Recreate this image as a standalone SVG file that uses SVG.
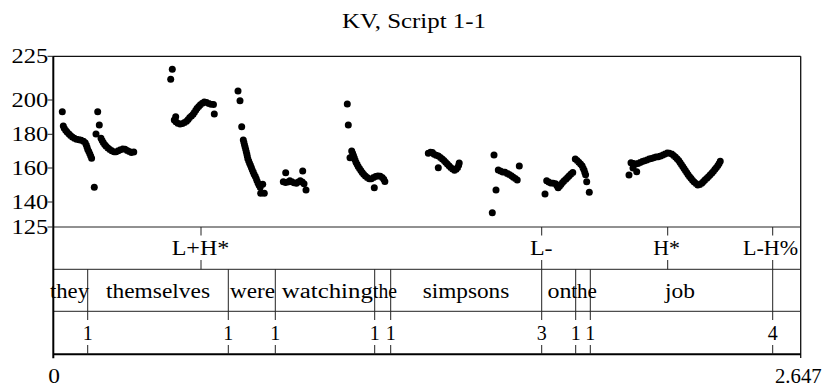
<svg xmlns="http://www.w3.org/2000/svg" width="828" height="386" viewBox="0 0 828 386">
<defs>
<style>
text{font-family:'Liberation Serif','DejaVu Serif',serif;font-size:20px;fill:#000}
.m{text-anchor:middle}
.e{text-anchor:end}
.ax{stroke:#000;stroke-width:2;fill:none}
.bd{stroke:#111;stroke-width:1.3;fill:none}
.sep{stroke:#222;stroke-width:1;fill:none}
.tk{stroke:#222;stroke-width:1;fill:none}
.f0{stroke:#000;stroke-width:7;stroke-linecap:round;stroke-linejoin:round;stroke-dasharray:0 2.4;fill:none}
.pt{fill:#000}
</style>
</defs>
<rect width="828" height="386" fill="#fff"/>
<g id="title"><text class="m" x="414" y="28" textLength="144" lengthAdjust="spacingAndGlyphs">KV, Script 1-1</text></g>

<g id="frame">
<line class="bd" x1="53.3" y1="56.3" x2="800.7" y2="56.3"/>
<line class="bd" x1="800.7" y1="56.3" x2="800.7" y2="358"/>
<line class="sep" x1="53.3" y1="227" x2="800.7" y2="227"/>
<line class="sep" x1="53.3" y1="269.3" x2="800.7" y2="269.3"/>
<line class="sep" x1="53.3" y1="311.3" x2="800.7" y2="311.3"/>
<line class="ax" x1="53.3" y1="56" x2="53.3" y2="358.3"/>
<line class="ax" x1="53.3" y1="354.3" x2="800.7" y2="354.3"/>
</g>

<g id="y-axis">
<g class="sep">
<line x1="47.5" y1="56.3" x2="53.3" y2="56.3"/>
<line x1="47.5" y1="100" x2="53.3" y2="100"/>
<line x1="47.5" y1="134.3" x2="53.3" y2="134.3"/>
<line x1="47.5" y1="168" x2="53.3" y2="168"/>
<line x1="47.5" y1="202" x2="53.3" y2="202"/>
<line x1="47.5" y1="227" x2="53.3" y2="227"/>
</g>
<text class="e" x="48.3" y="63" textLength="36.7" lengthAdjust="spacingAndGlyphs">225</text>
<text class="e" x="48.3" y="106.7" textLength="36.7" lengthAdjust="spacingAndGlyphs">200</text>
<text class="e" x="48.3" y="141" textLength="36.7" lengthAdjust="spacingAndGlyphs">180</text>
<text class="e" x="48.3" y="174.5" textLength="36.7" lengthAdjust="spacingAndGlyphs">160</text>
<text class="e" x="48.3" y="208.7" textLength="36.7" lengthAdjust="spacingAndGlyphs">140</text>
<text class="e" x="48.3" y="233.7" textLength="36.7" lengthAdjust="spacingAndGlyphs">125</text>
</g>

<g id="x-axis">
<text class="m" x="54" y="383" textLength="11.7" lengthAdjust="spacingAndGlyphs">0</text>
<text class="m" x="798.3" y="383" textLength="46.7" lengthAdjust="spacingAndGlyphs">2.647</text>
</g>

<g id="f0-track">
<path class="f0" d="M63.3,126 L64.3,128.3 66.7,131.7 70,135 73.3,137.7 76.7,139.3 80,140 83.3,141 85.7,143.3 86.7,146 87.7,149.3 89.3,152.7 90.7,156 92.3,160"/>
<path class="f0" d="M101,138.3 L103.3,142.7 105.7,146 108.3,148.3 111.7,150.7 115,152.3 118.3,150.7 121.7,149 125,149.3 128.3,151 131.7,152.7 135,151.7"/>
<path class="f0" d="M174.3,120 L176.7,122.7 180,124 183.3,123.3 186.7,121 190,117.3 193.3,114 197,108.3 200.5,104.5 204,102 207.5,102.8 211,104.3 214.5,104.5"/>
<path class="f0" d="M243.3,140 L245,146.7 246.7,153.3 247.7,158.3 249,161.7 250.7,166 252.3,170 254,174 255.7,177.3 257.3,181.7 259,185 260.7,188.3"/>
<path class="f0" d="M283.3,181.7 L286.7,182.7 290,180.7 293.3,182.7 296.7,183.3 300,180.7 303.3,182.7 305,185"/>
<path class="f0" d="M351.7,151 L353.3,155 355.7,161.7 358.3,166.7 361,170.7 363.3,174 366.7,177.3 370,179.3 373.3,177.7 376.7,176 380,176 383.3,178.3 385,181.7"/>
<path class="f0" d="M428.3,153.3 L431.7,151.7 435,155 438.3,156 441.7,158.3 445,161.7 448.3,165 451.7,168.3 455,170.7 458.3,166.7 459.3,162.7"/>
<path class="f0" d="M498.3,170 L501.7,171.7 505,172.3 508.3,174 511.7,176 515,178.3 517.3,180"/>
<path class="f0" d="M546.7,180.7 L550,183 553.3,183.3 556,184 558.3,188 561,184.3 564,181 567,178 570,175 573.3,172"/>
<path class="f0" d="M575.3,159 L578.3,161.7 581.7,165 584,170 585.7,175"/>
<path class="f0" d="M631,162.7 L635,164 638.3,163.3 641.7,161.7 645,160.7 648.3,159.3 651.7,158.3 655,157.3 658.3,156.7 661.7,155.7 665,154 668.3,152.7 671.7,154 675,156.7 678.3,160 681.7,165 685,170 688.3,175 691.7,179.3 695,182.7 698.3,185.5 701.7,183.3 705,180 708.3,176.7 711.7,173.3 715,169.3 718.3,165 721,160"/>
<g class="pt">
<circle cx="62.3" cy="111.7" r="3.5"/>
<circle cx="94.3" cy="187.3" r="3.5"/>
<circle cx="97.7" cy="111.7" r="3.5"/>
<circle cx="99.3" cy="125" r="3.5"/>
<circle cx="96" cy="134" r="3.5"/>
<circle cx="172.3" cy="69.3" r="3.5"/>
<circle cx="170.7" cy="79.3" r="3.5"/>
<circle cx="175.7" cy="116.7" r="3.5"/>
<circle cx="214.3" cy="114" r="3.5"/>
<circle cx="238" cy="91" r="3.5"/>
<circle cx="240" cy="100.7" r="3.5"/>
<circle cx="241.7" cy="126.7" r="3.5"/>
<circle cx="262.7" cy="184.3" r="3.5"/>
<circle cx="260.7" cy="193.3" r="3.5"/>
<circle cx="264.3" cy="193.3" r="3.5"/>
<circle cx="285.7" cy="172.7" r="3.5"/>
<circle cx="302.7" cy="171" r="3.5"/>
<circle cx="306" cy="190" r="3.5"/>
<circle cx="347.3" cy="104" r="3.5"/>
<circle cx="348.3" cy="125" r="3.5"/>
<circle cx="350" cy="157.7" r="3.5"/>
<circle cx="374.3" cy="187.7" r="3.5"/>
<circle cx="438.3" cy="167.7" r="3.5"/>
<circle cx="494" cy="155" r="3.5"/>
<circle cx="496" cy="190" r="3.5"/>
<circle cx="492.3" cy="212.7" r="3.5"/>
<circle cx="519.3" cy="166" r="3.5"/>
<circle cx="545" cy="194" r="3.5"/>
<circle cx="586.7" cy="181.7" r="3.5"/>
<circle cx="589.3" cy="192.3" r="3.5"/>
<circle cx="629" cy="175" r="3.5"/>
<circle cx="633" cy="168" r="3.5"/>
<circle cx="636.7" cy="171.7" r="3.5"/>
</g>
</g>

<g id="tone-tier">
<g class="tk">
<path d="M201,227V235.5M201,260V269.3"/>
<path d="M541.7,227V235.5M541.7,260V269.3"/>
<path d="M667.7,227V235.5M667.7,260V269.3"/>
<path d="M772.7,227V235.5M772.7,260V269.3"/>
</g>
<text class="m" x="200.5" y="255" textLength="57.6" lengthAdjust="spacingAndGlyphs">L+H*</text>
<text class="m" x="541.3" y="255" textLength="22.7" lengthAdjust="spacingAndGlyphs">L-</text>
<text class="m" x="666.7" y="255" textLength="26.7" lengthAdjust="spacingAndGlyphs">H*</text>
<text class="m" x="770.5" y="255" textLength="55" lengthAdjust="spacingAndGlyphs">L-H%</text>
</g>

<g id="word-tier">
<g class="tk">
<path d="M87.7,269.3V311.3M228.3,269.3V311.3M275.3,269.3V311.3M374.7,269.3V311.3M390.7,269.3V311.3M541.7,269.3V311.3M575.7,269.3V311.3M590.3,269.3V311.3M772.7,269.3V311.3"/>
</g>
<text class="m" x="69.5" y="298" textLength="39" lengthAdjust="spacingAndGlyphs">they</text>
<text class="m" x="158" y="298" textLength="104" lengthAdjust="spacingAndGlyphs">themselves</text>
<text class="m" x="252.5" y="298" textLength="45" lengthAdjust="spacingAndGlyphs">were</text>
<text class="m" x="327.3" y="298" textLength="91" lengthAdjust="spacingAndGlyphs">watching</text>
<text class="m" x="385" y="298" textLength="24" lengthAdjust="spacingAndGlyphs">the</text>
<text class="m" x="466" y="298" textLength="86.6" lengthAdjust="spacingAndGlyphs">simpsons</text>
<text class="m" x="559.5" y="298" textLength="24" lengthAdjust="spacingAndGlyphs">on</text>
<text class="m" x="584" y="298" textLength="25.7" lengthAdjust="spacingAndGlyphs">the</text>
<text class="m" x="680" y="298" textLength="30" lengthAdjust="spacingAndGlyphs">job</text>
</g>

<g id="break-tier">
<g class="tk">
<path d="M87.7,311.3V320M87.7,345V354.3"/>
<path d="M228.3,311.3V320M228.3,345V354.3"/>
<path d="M275.3,311.3V320M275.3,345V354.3"/>
<path d="M374.7,311.3V320M374.7,345V354.3"/>
<path d="M390.7,311.3V320M390.7,345V354.3"/>
<path d="M541.7,311.3V320M541.7,345V354.3"/>
<path d="M575.7,311.3V320M575.7,345V354.3"/>
<path d="M590.3,311.3V320M590.3,345V354.3"/>
<path d="M772.7,311.3V320M772.7,345V354.3"/>
</g>
<text class="m" x="87.7" y="340">1</text>
<text class="m" x="228.3" y="340">1</text>
<text class="m" x="275.3" y="340">1</text>
<text class="m" x="374.7" y="340">1</text>
<text class="m" x="390.7" y="340">1</text>
<text class="m" x="541.7" y="340">3</text>
<text class="m" x="575.7" y="340">1</text>
<text class="m" x="590.3" y="340">1</text>
<text class="m" x="772.7" y="340">4</text>
</g>
</svg>
